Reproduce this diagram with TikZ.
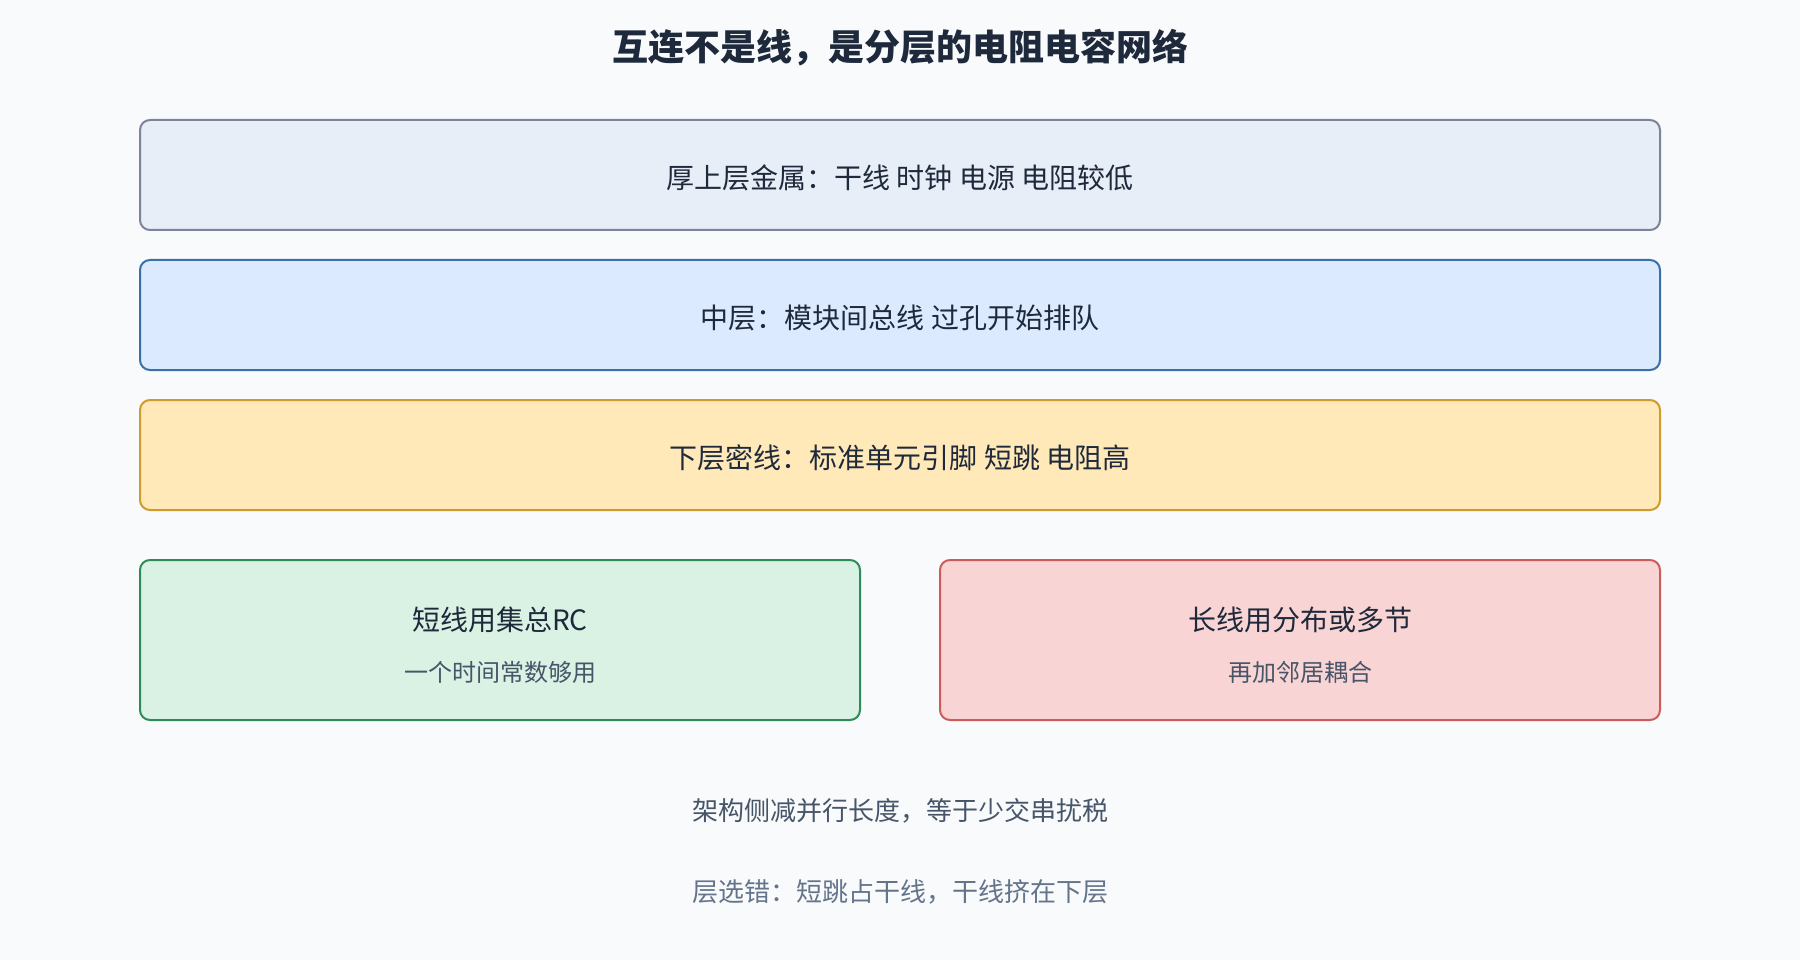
\documentclass[tikz,border=0pt]{standalone}
\usepackage{fontspec}
\setmainfont{Noto Sans CJK SC}
\usepackage{tikz}
\usetikzlibrary{positioning}

\definecolor{pagebg}{HTML}{F8FAFC}
\definecolor{inkdark}{HTML}{1E293B}
\definecolor{inkmid}{HTML}{475569}
\definecolor{inklight}{HTML}{64748B}
\definecolor{topfill}{HTML}{E8EEF7}
\definecolor{topline}{HTML}{7B8599}
\definecolor{midfill}{HTML}{DBEAFE}
\definecolor{midline}{HTML}{3B6FA8}
\definecolor{lowfill}{HTML}{FFE9B8}
\definecolor{lowline}{HTML}{D19A2E}
\definecolor{shortfill}{HTML}{DAF2E3}
\definecolor{shortline}{HTML}{2E8B57}
\definecolor{longfill}{HTML}{F9D4D4}
\definecolor{longline}{HTML}{CC5C5C}

\tikzset{
  layerbox/.style={rectangle, rounded corners=10pt, line width=2pt,
    minimum width=1520pt, minimum height=110pt, inner sep=0pt},
  modelbox/.style={rectangle, rounded corners=10pt, line width=2pt,
    minimum width=720pt, minimum height=160pt, inner sep=0pt},
  headtext/.style={text=inkdark, inner sep=0pt, font=\fontsize{28}{34}\selectfont},
  subtext/.style={text=inkmid, inner sep=0pt, font=\fontsize{24}{30}\selectfont},
  foottext/.style={inner sep=0pt, font=\fontsize{26}{32}\selectfont}
}

\begin{document}
\begin{tikzpicture}[x=1pt, y=-1pt]

 \fill[pagebg] (0,0) rectangle (1800,960);
 \useasboundingbox (0,0) rectangle (1800,960);

 \node (title) at (900, 48)[text=inkdark, inner sep=0pt, font=\fontsize{36}{42}\selectfont\bfseries]{互连不是线，是分层的电阻电容网络};

 \node (top) at (900, 175)[layerbox, draw=topline, fill=topfill]{};
 \node (topText) at (900, 178)[headtext]{厚上层金属：干线 时钟 电源 电阻较低};
 \node (mid) at (900, 315)[layerbox, draw=midline, fill=midfill]{};
 \node (midText) at (900, 318)[headtext]{中层：模块间总线 过孔开始排队};
 \node (low) at (900, 455)[layerbox, draw=lowline, fill=lowfill]{};
 \node (lowText) at (900, 458)[headtext]{下层密线：标准单元引脚 短跳 电阻高};

 \node (short) at (500, 640)[modelbox, draw=shortline, fill=shortfill]{};
 \node (shortHead) at (500, 620)[headtext]{短线用集总RC};
 \node (shortSub) at (500, 672)[subtext]{一个时间常数够用};

 \node (long) at (1300, 640)[modelbox, draw=longline, fill=longfill]{};
 \node (longHead) at (1300, 620)[headtext]{长线用分布或多节};
 \node (longSub) at (1300, 672)[subtext]{再加邻居耦合};

 \node (archNote) at (900, 811)[foottext, text=inkmid]{架构侧减并行长度，等于少交串扰税};
 \node (wrongNote) at (900, 892)[foottext, text=inklight]{层选错：短跳占干线，干线挤在下层};

\end{tikzpicture}
\end{document}
